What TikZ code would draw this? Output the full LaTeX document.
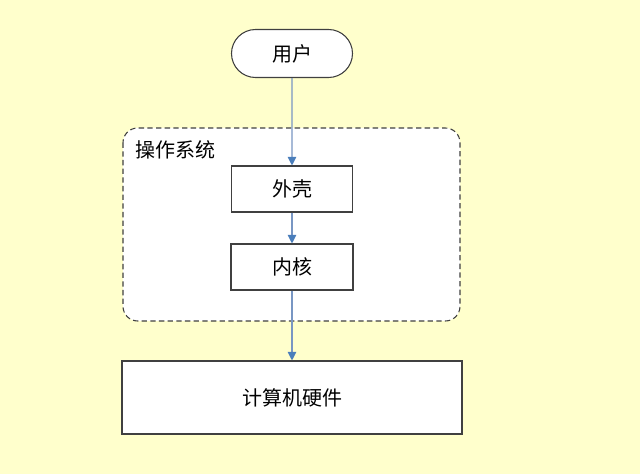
\documentclass[tikz,border=0pt]{standalone}
\usepackage{fontspec}
\setmainfont{Noto Sans CJK SC}
\usetikzlibrary{arrows.meta,shapes.misc}
\definecolor{bgyellow}{RGB}{255,255,204}
\definecolor{edge}{RGB}{64,64,64}
\definecolor{arrline}{RGB}{120,150,195}
\definecolor{arrtip}{RGB}{74,126,187}
\tikzset{
  x=0.75pt,y=-0.75pt,
  txt/.style={font=\fontsize{15}{17}\selectfont},
  box/.style={draw=edge,line width=0.8pt,fill=white,inner sep=0pt,txt},
  stadium/.style={box,rounded rectangle},
  conn/.style={draw=arrline,line width=0.8pt,-{Triangle[width=6.5pt,length=6.5pt,color=arrtip,fill=arrtip]}},
  group/.style={draw=edge,line width=0.8pt,dash pattern=on 4pt off 2.5pt,fill=white,rounded corners=11pt},
}
\begin{document}
\begin{tikzpicture}
\useasboundingbox (0,0) rectangle (640,474);
\fill[bgyellow] (0,0) rectangle (640,474);
\draw[group] (123,128) rectangle (460,321);
\node[anchor=west,txt,inner sep=0pt] (os) at (135,150) {操作系统};
\node[stadium,minimum width=90.75pt,minimum height=36pt] (user) at (292,53.5) {用户};
\node[box,minimum width=90.75pt,minimum height=34.5pt] (shell) at (292,189) {外壳};
\node[box,minimum width=91.5pt,minimum height=34.5pt] (kernel) at (292,267) {内核};
\node[box,minimum width=255pt,minimum height=54.75pt] (hw) at (292,397.5) {计算机硬件};
\draw[conn] (user) -- (shell);
\draw[conn] (shell) -- (kernel);
\draw[conn] (kernel) -- (hw);
\end{tikzpicture}
\end{document}
